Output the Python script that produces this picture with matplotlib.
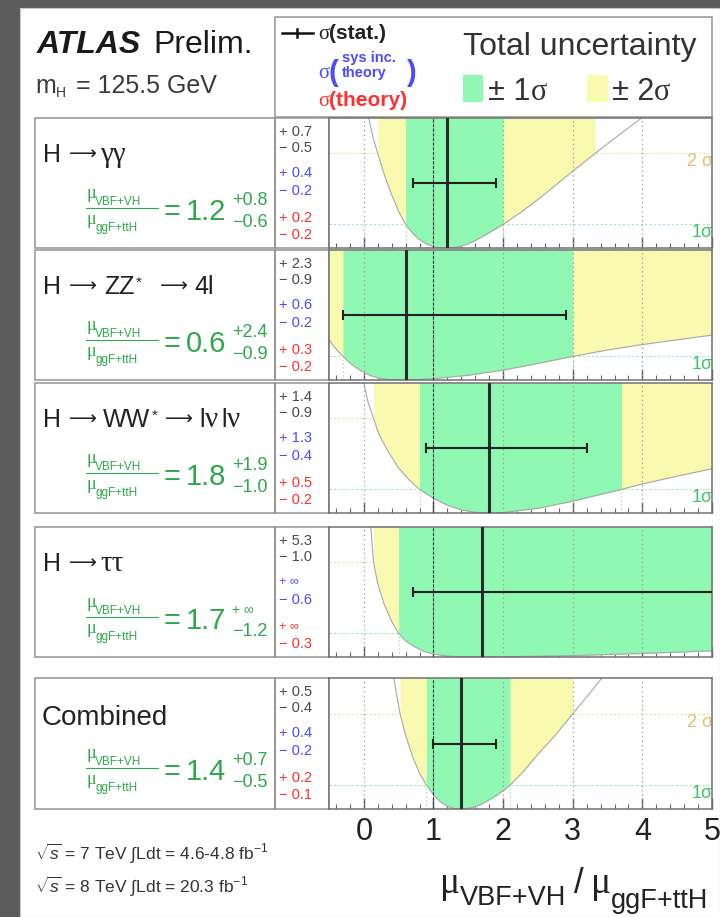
import numpy as np
import matplotlib
matplotlib.use("Agg")
import matplotlib.pyplot as plt
from matplotlib import font_manager
from matplotlib.patches import Rectangle
from matplotlib.ticker import MultipleLocator

W, H = 720, 917

# ---------------- measured values ----------------
best = [1.2, 0.6, 1.8, 1.7, 1.4]
tot_up = [0.8, 2.4, 1.9, np.inf, 0.7]
tot_dn = [0.6, 0.9, 1.0, 1.2, 0.5]
stat_up = [0.7, 2.3, 1.4, 5.3, 0.5]
stat_dn = [0.5, 0.9, 0.9, 1.0, 0.4]
syst_up = [0.4, 0.6, 1.3, np.inf, 0.4]
syst_dn = [0.2, 0.2, 0.4, 0.6, 0.2]
theo_up = [0.2, 0.3, 0.5, np.inf, 0.2]
theo_dn = [0.2, 0.2, 0.2, 0.3, 0.1]
two_sig_lo = [0.2, -np.inf, 0.14, 0.14, 0.52]
two_sig_hi = [3.32, np.inf, np.inf, np.inf, 3.0]

# -2 ln(Lambda) scans versus the ratio
scan_x_gg = [0.07, 0.13, 0.2, 0.3, 0.4, 0.5, 0.6, 0.7, 0.8, 0.9, 1.0, 1.1, 1.2, 1.3, 1.4,
             1.5, 1.6, 1.7, 1.8, 1.9, 2.0, 2.25, 2.5, 2.75, 3.0, 3.32, 3.65, 3.99]
scan_y_gg = [5.5, 4.7, 4.0, 3.05, 2.25, 1.55, 1.0, 0.62, 0.35, 0.17, 0.06, 0.01, 0.0, 0.02, 0.08,
             0.18, 0.32, 0.48, 0.65, 0.82, 1.0, 1.5, 2.05, 2.65, 3.25, 4.0, 4.75, 5.5]
scan_x_zz = [-0.5, -0.42, -0.3, -0.2, -0.1, 0.0, 0.1, 0.2, 0.3, 0.4, 0.6, 0.8, 1.0, 1.5, 2.0,
             2.5, 3.0, 3.5, 4.0, 4.5, 5.0]
scan_y_zz = [1.7, 1.38, 1.0, 0.72, 0.5, 0.32, 0.18, 0.09, 0.04, 0.01, 0.0, 0.02, 0.06, 0.2, 0.42,
             0.7, 1.0, 1.27, 1.5, 1.7, 1.9]
scan_x_ww = [0.0, 0.06, 0.14, 0.22, 0.34, 0.5, 0.65, 0.8, 1.0, 1.2, 1.4, 1.6, 1.8, 2.0, 2.5,
             3.0, 3.7, 4.0, 4.5, 5.0]
scan_y_ww = [5.5, 4.7, 4.0, 3.3, 2.65, 1.9, 1.4, 1.0, 0.62, 0.33, 0.13, 0.03, 0.0, 0.02, 0.2,
             0.5, 1.0, 1.23, 1.56, 1.87]
scan_x_tt = [0.1, 0.14, 0.2, 0.29, 0.4, 0.5, 0.6, 0.72, 0.85, 1.0, 1.2, 1.4, 1.7, 2.0, 3.0, 4.0, 5.0]
scan_y_tt = [5.5, 4.0, 3.1, 2.25, 1.5, 1.0, 0.68, 0.45, 0.25, 0.12, 0.04, 0.01, 0.0, 0.01, 0.06, 0.15, 0.26]
scan_x_comb = [0.43, 0.52, 0.6, 0.7, 0.8, 0.9, 1.0, 1.1, 1.2, 1.3, 1.4, 1.5, 1.6, 1.7, 1.8, 1.9,
               2.0, 2.1, 2.3, 2.5, 2.75, 3.0, 3.2, 3.42]
scan_y_comb = [5.5, 4.0, 3.1, 2.2, 1.5, 1.0, 0.6, 0.3, 0.11, 0.02, 0.0, 0.03, 0.1, 0.22, 0.38, 0.56,
               0.77, 1.0, 1.6, 2.3, 3.1, 4.0, 4.7, 5.5]

scans_x = [scan_x_gg, scan_x_zz, scan_x_ww, scan_x_tt, scan_x_comb]
scans_y = [scan_y_gg, scan_y_zz, scan_y_ww, scan_y_tt, scan_y_comb]

xticks = [0, 1, 2, 3, 4, 5]
x_range = (-0.5, 5.0)
y_range = (0.0, 5.5)

# ---------------- style ----------------
SANS = "Liberation Sans"
SERIF = "Liberation Serif"
ARROW = "DejaVu Sans"
_names = {f.name for f in font_manager.fontManager.ttflist}
NARROW = "Liberation Sans Narrow" if "Liberation Sans Narrow" in _names else SANS

plt.rcParams["font.family"] = [SANS, "DejaVu Sans"]
plt.rcParams["mathtext.fontset"] = "custom"
plt.rcParams["mathtext.rm"] = SANS
plt.rcParams["mathtext.it"] = SANS + ":italic"
plt.rcParams["mathtext.bf"] = SANS + ":bold"

GREEN_FILL = "#8ff8b2"
YELLOW_FILL = "#f9f9b0"
GREEN_TXT = "#2fa84c"
BLUE = "#4b4bff"
RED = "#ff3030"
DARK = "#262626"
BOX = "#939393"

fig = plt.figure(figsize=(W / 100, H / 100), dpi=100, facecolor="#5c5c5c")
bg = fig.add_axes([0, 0, 1, 1])
bg.set_xlim(0, W)
bg.set_ylim(H, 0)
bg.axis("off")
bg.add_patch(Rectangle((20, 8), W - 20, H - 8, facecolor="white", edgecolor="#c8c8c8", lw=0.8))
renderer = fig.canvas.get_renderer()


def put(x, y, s, size, color=DARK, family=SANS, weight="normal", style="normal",
        ha="left", va="baseline"):
    return bg.text(x, y, s, fontsize=size, color=color, family=family, fontweight=weight,
                   fontstyle=style, ha=ha, va=va)


def seq(x, y, pieces, color=DARK):
    """Write text pieces one after another along a baseline."""
    for p in pieces:
        s, size = p[0], p[1]
        o = dict(p[2]) if len(p) > 2 else {}
        gap = o.pop("gap", 0)
        dy = o.pop("dy", 0)
        o.setdefault("color", color)
        t = put(x, y + dy, s, size, **o)
        x += t.get_window_extent(renderer).width + gap
    return x


def fmt(v, sign):
    return sign + " ∞" if np.isinf(v) else f"{sign}{v:.1f}"


# ---------------- header ----------------
seq(37, 53, [("ATLAS", 23, {"weight": "bold", "style": "italic", "gap": 12}),
             ("Prelim.", 23)], color="#1a1a1a")
seq(35, 93, [("m", 18), ("H", 10, {"dy": 4, "gap": 3}), (" = 125.5 GeV", 18)], color="#3a3a3a")

# legend box
bg.add_patch(Rectangle((275, 17), 437, 100, fill=False, edgecolor=BOX, lw=1.1))
bg.plot([282, 313], [33, 33], color="#111111", lw=1.8)
bg.plot([297, 297], [29, 37], color="#111111", lw=1.8)
seq(318, 39, [("σ", 15, {"family": SERIF}), ("(stat.)", 15, {"weight": "bold"})], color="#222222")
seq(318, 78, [("σ", 15, {"family": SERIF})], color=BLUE)
put(328, 81, "(", 21, color=BLUE, weight="bold")
put(342, 62, "sys inc.", 10.5, color=BLUE, weight="bold")
put(342, 77, "theory", 10.5, color=BLUE, weight="bold")
put(406, 81, ")", 21, color=BLUE, weight="bold")
seq(318, 106, [("σ", 15, {"family": SERIF}), ("(theory)", 15, {"weight": "bold"})], color=RED)

put(463, 55, "Total uncertainty", 23, color="#333333")
bg.add_patch(Rectangle((463, 75), 20, 27, facecolor=GREEN_FILL, edgecolor="none"))
seq(488, 100, [("± 1", 22), ("σ", 22, {"family": SERIF})], color="#333333")
bg.add_patch(Rectangle((587, 75), 21, 27, facecolor=YELLOW_FILL, edgecolor="none"))
seq(612, 100, [("± 2", 22), ("σ", 22, {"family": SERIF})], color="#333333")

# ---------------- panels ----------------
tops = [118, 250, 383, 527, 678]
bots = [248, 380, 513, 657, 809]
PX0, PX1 = 329, 712

# channel titles: (x position, text, size, font, vertical shift)
ARR = ("⟶", 14, ARROW, -2)
titles = [
    [(43, "H", 18, SANS, 0), (69,) + ARR, (100, "γγ", 21, SERIF, 0)],
    [(43, "H", 18, SANS, 0), (69,) + ARR, (104, "ZZ", 18, SANS, 0), (136, "*", 11, SANS, -7),
     (160,) + ARR, (194, "4l", 18, SANS, 0)],
    [(43, "H", 18, SANS, 0), (69,) + ARR, (103, "WW", 18, SANS, 0), (152, "*", 11, SANS, -7),
     (165,) + ARR, (199, "l", 18, SANS, 0), (205, "ν", 21, SERIF, 0), (221, "l", 18, SANS, 0),
     (227, "ν", 21, SERIF, 0)],
    [(43, "H", 18, SANS, 0), (69,) + ARR, (100, "ττ", 21, SERIF, 0)],
    [(42, "Combined", 20, SANS, 3)],
]
num_offsets = [14, 30, 55, 73, 100, 117]

for i in range(5):
    top, bot = tops[i], bots[i]
    # label box and number column
    bg.add_patch(Rectangle((35, top), 240, bot - top, fill=False, edgecolor=BOX, lw=1.1))
    bg.add_patch(Rectangle((275, top), PX0 - 275, bot - top, fill=False, edgecolor=BOX, lw=1.1))

    for px, s, size, fam, dy in titles[i]:
        put(px, top + 44 + dy, s, size, color="#222222", family=fam)

    # ratio result in green
    put(86, top + 80, "μ", 13, color=GREEN_TXT, family=SERIF)
    put(95, top + 87, "VBF+VH", 8.5, color=GREEN_TXT)
    bg.plot([86, 158], [top + 90, top + 90], color=GREEN_TXT, lw=0.8)
    put(86, top + 106, "μ", 13, color=GREEN_TXT, family=SERIF)
    put(96, top + 113, "ggF+ttH", 8.5, color=GREEN_TXT)
    put(164, top + 102, "=", 21, color=GREEN_TXT)
    put(186, top + 102, f"{best[i]:.1f}", 21, color=GREEN_TXT)
    put(232, top + 87, fmt(tot_up[i], "+"), 13 if np.isfinite(tot_up[i]) else 10, color=GREEN_TXT)
    put(232, top + 109, fmt(tot_dn[i], "−"), 13, color=GREEN_TXT)

    # uncertainty breakdown column
    vals = [(stat_up[i], "+ ", "#4a4a4a"), (stat_dn[i], "− ", "#4a4a4a"),
            (syst_up[i], "+ ", BLUE), (syst_dn[i], "− ", BLUE),
            (theo_up[i], "+ ", RED), (theo_dn[i], "− ", RED)]
    for (v, sg, c), off in zip(vals, num_offsets):
        if np.isinf(v):
            put(279, top + off, sg.strip() + " ∞", 9, color=c, va="center")
        else:
            put(279, top + off, f"{sg}{v:.1f}", 10.5, color=c, va="center")

    # likelihood scan panel
    ax = fig.add_axes([PX0 / W, 1 - bot / H, (PX1 - PX0) / W, (bot - top) / H])
    ax.set_xlim(*x_range)
    ax.set_ylim(*y_range)
    ax.set_facecolor("white")
    sx = np.array(scans_x[i])
    sy = np.array(scans_y[i])
    lo1, hi1 = best[i] - tot_dn[i], best[i] + tot_up[i]
    lo2, hi2 = two_sig_lo[i], two_sig_hi[i]
    eps = 1e-6

    # reference levels
    ax.axhline(1, color="#a6e6b0", ls=(0, (2, 2)), lw=0.8, zorder=1)
    ax.axhline(4, color="#dfe3a8", ls=(0, (2, 2)), lw=0.8, zorder=1)
    ax.text(4.64, 4 - 0.36, "2 σ", color="#e7bf6c", fontsize=13, ha="left", va="center",
            zorder=1, clip_on=True)
    ax.text(4.71, 1 - 0.36, "1σ", color="#3fc468", fontsize=13, ha="left", va="center",
            zorder=1, clip_on=True)
    for edge in (lo1, hi1):
        if np.isfinite(edge):
            ax.vlines(edge, 0, 1, color="#a6e6b0", ls=(0, (1.5, 2)), lw=0.8, zorder=1)

    ax.fill_between(sx, sy, y_range[1], where=(sx >= lo2 - eps) & (sx <= hi2 + eps),
                    color=YELLOW_FILL, lw=0, zorder=2)
    ax.fill_between(sx, sy, y_range[1], where=(sx >= lo1 - eps) & (sx <= hi1 + eps),
                    color=GREEN_FILL, lw=0, zorder=2.1)
    ax.plot(sx, sy, color="#a8a8a8", lw=0.8, zorder=2.5)

    for gx in xticks[:-1]:
        ax.axvline(gx, color="#9a9a9a", ls=(0, (1, 2.6)), lw=0.9, zorder=3)
    ax.axvline(1, color="#3c3c3c", ls=(0, (3, 1.2)), lw=0.8, zorder=3.2)

    ax.axvline(best[i], color="#2b2b2b", lw=2.2, zorder=4)
    ax.errorbar([best[i]], [2.75], xerr=[[stat_dn[i]], [stat_up[i]]], fmt="none",
                ecolor="#222222", elinewidth=1.5, capsize=3.5, capthick=1.5, zorder=5)

    for sp in ax.spines.values():
        sp.set_color("#707070")
        sp.set_linewidth(1.1)
    ax.set_xticks(xticks)
    ax.xaxis.set_minor_locator(MultipleLocator(0.2))
    ax.set_yticks([])
    ax.tick_params(axis="x", which="major", direction="in", length=8, width=1,
                   color="#555555", top=False, labelsize=22, labelcolor="#222222", pad=6)
    ax.tick_params(axis="x", which="minor", direction="in", length=3.5, width=0.8,
                   color="#666666", top=False)
    if i < 4:
        ax.set_xticklabels([])

# faint guide running through the gaps between panels
bg.plot([327, 327], [117, 809], color="#e4e4e4", lw=0.8, zorder=0.5)

# ---------------- axis title and luminosity ----------------
seq(440, 893, [("μ", 27, {"family": SERIF, "gap": 0}),
               ("VBF+VH", 19.5, {"dy": 12, "gap": 7}),
               ("/", 25, {"gap": 8}),
               ("μ", 27, {"family": SERIF, "gap": 0}),
               ("ggF+ttH", 19.5, {"dy": 15})], color="#222222")

seq(35, 860, [(r"$\sqrt{s}$ = 7 TeV $\int$Ldt = 4.6-4.8 fb$^{-1}$", 12.5, {"family": NARROW})],
    color="#333333")
seq(35, 893, [(r"$\sqrt{s}$ = 8 TeV $\int$Ldt = 20.3 fb$^{-1}$", 12.5, {"family": NARROW})],
    color="#333333")

fig.savefig("out.png", dpi=100, facecolor=fig.get_facecolor())
